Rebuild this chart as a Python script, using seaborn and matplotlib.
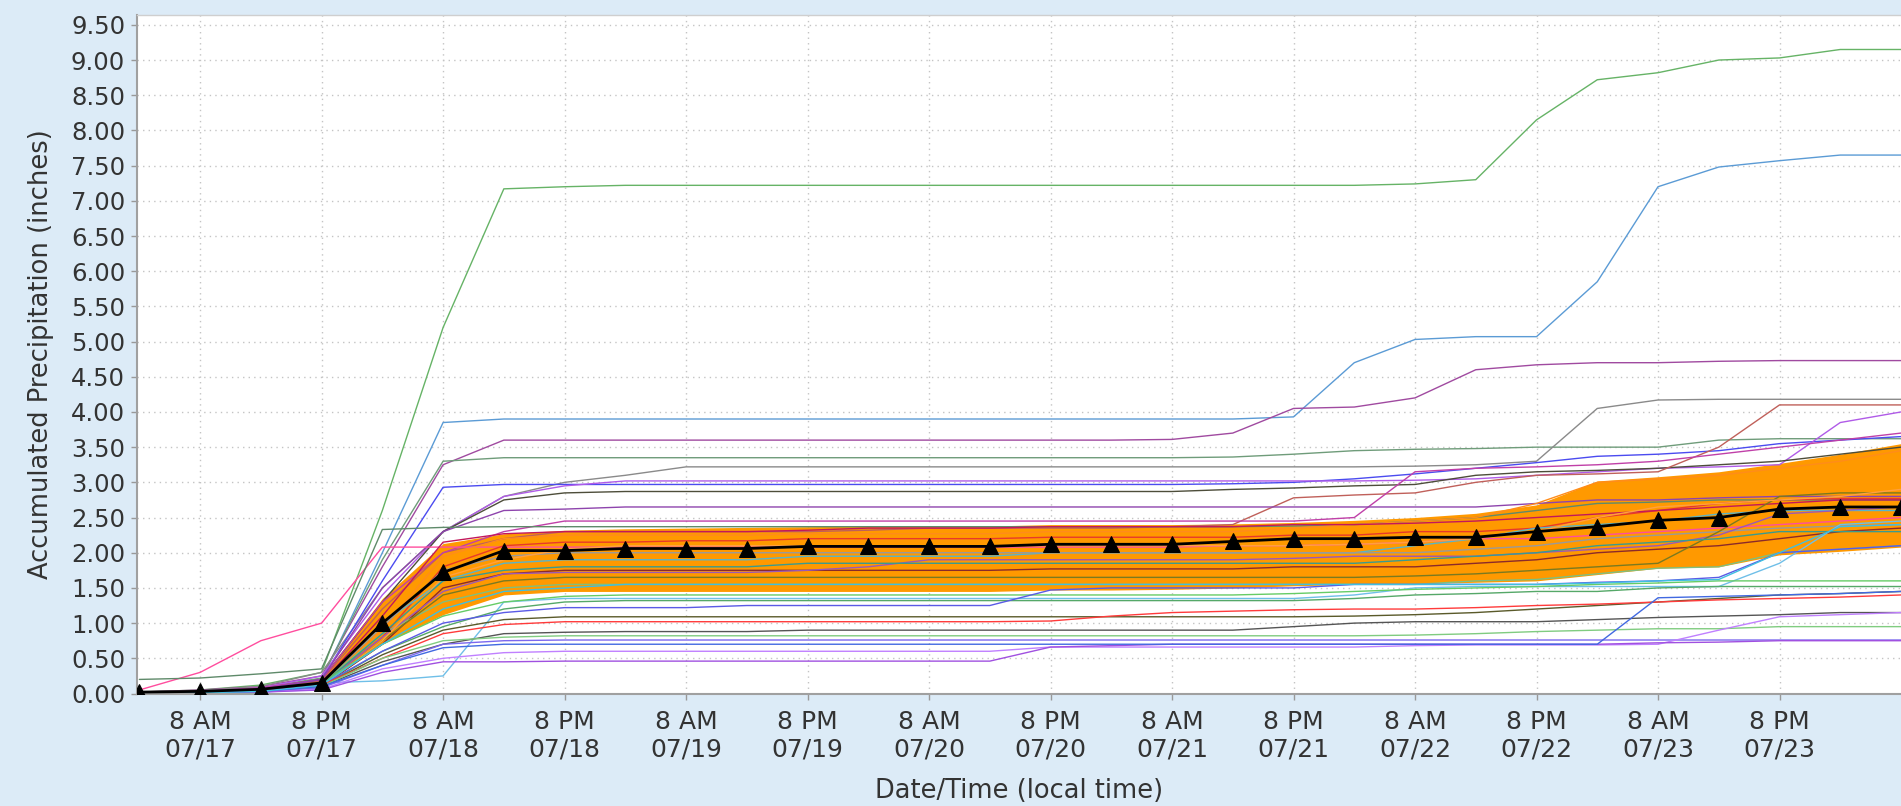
import numpy as np
import pandas as pd
import seaborn as sns
import matplotlib
matplotlib.use("Agg")
import matplotlib.pyplot as plt
import matplotlib.dates as mdates
import matplotlib.ticker as mticker

# 6-hourly valid times
times = pd.date_range("2024-07-17 02:00", periods=30, freq="6h")
# labelled ticks: 8 AM / 8 PM
tick_times = pd.date_range("2024-07-17 08:00", "2024-07-23 20:00", freq="12h")

# ensemble members (accumulated precip, inches)
m01 = [0.02, 0.05, 0.12, 0.30, 2.60, 5.20, 7.17, 7.20, 7.22, 7.22,
       7.22, 7.22, 7.22, 7.22, 7.22, 7.22, 7.22, 7.22, 7.22, 7.22,
       7.22, 7.24, 7.30, 8.15, 8.72, 8.82, 9.00, 9.03, 9.15, 9.15]
m02 = [0.01, 0.03, 0.08, 0.20, 2.00, 3.85, 3.90, 3.90, 3.90, 3.90,
       3.90, 3.90, 3.90, 3.90, 3.90, 3.90, 3.90, 3.90, 3.90, 3.93,
       4.70, 5.03, 5.07, 5.07, 5.85, 7.20, 7.48, 7.57, 7.65, 7.65]
m03 = [0.02, 0.05, 0.10, 0.25, 1.80, 3.25, 3.60, 3.60, 3.60, 3.60,
       3.60, 3.60, 3.60, 3.60, 3.60, 3.60, 3.60, 3.61, 3.70, 4.05,
       4.07, 4.20, 4.60, 4.67, 4.70, 4.70, 4.72, 4.73, 4.73, 4.73]
m04 = [0.01, 0.03, 0.08, 0.22, 1.90, 3.30, 3.35, 3.35, 3.35, 3.35,
       3.35, 3.35, 3.35, 3.35, 3.35, 3.35, 3.35, 3.35, 3.36, 3.40,
       3.45, 3.47, 3.48, 3.50, 3.50, 3.50, 3.60, 3.62, 3.62, 3.62]
m05 = [0.02, 0.04, 0.10, 0.30, 1.50, 2.30, 2.80, 3.00, 3.10, 3.22,
       3.22, 3.22, 3.22, 3.22, 3.22, 3.22, 3.22, 3.22, 3.22, 3.22,
       3.22, 3.23, 3.25, 3.30, 4.05, 4.17, 4.18, 4.18, 4.18, 4.18]
m06 = [0.01, 0.02, 0.06, 0.20, 1.60, 2.93, 2.97, 2.97, 2.97, 2.97,
       2.97, 2.97, 2.97, 2.97, 2.97, 2.97, 2.97, 2.97, 2.98, 3.00,
       3.05, 3.12, 3.20, 3.28, 3.37, 3.40, 3.45, 3.55, 3.60, 3.65]
m07 = [0.01, 0.03, 0.08, 0.25, 1.40, 2.30, 2.80, 2.95, 3.02, 3.02,
       3.02, 3.02, 3.02, 3.02, 3.02, 3.02, 3.02, 3.02, 3.02, 3.02,
       3.02, 3.03, 3.05, 3.10, 3.15, 3.20, 3.22, 3.25, 3.85, 4.00]
m08 = [0.01, 0.02, 0.07, 0.20, 1.30, 2.30, 2.75, 2.85, 2.87, 2.87,
       2.87, 2.87, 2.87, 2.87, 2.87, 2.87, 2.87, 2.87, 2.90, 2.92,
       2.95, 2.97, 3.10, 3.15, 3.17, 3.20, 3.25, 3.30, 3.40, 3.50]
m09 = [0.01, 0.02, 0.06, 0.18, 1.20, 2.00, 2.20, 2.30, 2.30, 2.30,
       2.30, 2.30, 2.32, 2.35, 2.35, 2.35, 2.35, 2.37, 2.40, 2.78,
       2.82, 2.85, 3.00, 3.10, 3.12, 3.15, 3.50, 4.10, 4.10, 4.10]
m10 = [0.01, 0.03, 0.08, 0.20, 1.30, 2.00, 2.30, 2.45, 2.45, 2.45,
       2.45, 2.45, 2.45, 2.45, 2.45, 2.45, 2.45, 2.45, 2.45, 2.45,
       2.50, 3.15, 3.20, 3.22, 3.25, 3.30, 3.40, 3.50, 3.60, 3.70]
m11 = [0.01, 0.02, 0.06, 0.20, 1.50, 2.30, 2.60, 2.62, 2.65, 2.65,
       2.65, 2.65, 2.65, 2.65, 2.65, 2.65, 2.65, 2.65, 2.65, 2.65,
       2.65, 2.65, 2.65, 2.70, 2.75, 2.75, 2.78, 2.80, 2.80, 2.80]
m12 = [0.05, 0.30, 0.75, 1.00, 2.08, 2.08, 2.08, 2.08, 2.08, 2.08,
       2.08, 2.08, 2.08, 2.08, 2.08, 2.08, 2.08, 2.08, 2.10, 2.10,
       2.12, 2.15, 2.20, 2.20, 2.25, 2.30, 2.35, 2.40, 2.45, 2.50]
m13 = [0.20, 0.22, 0.28, 0.35, 2.33, 2.36, 2.37, 2.37, 2.37, 2.37,
       2.37, 2.37, 2.37, 2.37, 2.37, 2.37, 2.37, 2.37, 2.37, 2.38,
       2.40, 2.45, 2.50, 2.60, 2.70, 2.72, 2.75, 2.75, 2.75, 2.75]
m14 = [0.00, 0.01, 0.03, 0.12, 0.90, 1.95, 2.20, 2.25, 2.25, 2.25,
       2.25, 2.27, 2.27, 2.27, 2.27, 2.30, 2.30, 2.30, 2.30, 2.35,
       2.40, 2.45, 2.50, 2.70, 3.00, 3.05, 3.10, 3.20, 3.30, 3.45]
m15 = [0.00, 0.01, 0.04, 0.12, 0.80, 1.80, 2.10, 2.15, 2.15, 2.17,
       2.17, 2.20, 2.20, 2.20, 2.20, 2.22, 2.22, 2.22, 2.22, 2.25,
       2.25, 2.30, 2.30, 2.35, 2.50, 2.60, 2.70, 2.75, 2.77, 2.77]
m16 = [0.00, 0.02, 0.05, 0.15, 1.00, 1.60, 1.85, 1.90, 1.90, 1.90,
       1.90, 1.95, 1.95, 1.95, 1.95, 2.00, 2.00, 2.00, 2.00, 2.00,
       2.00, 2.10, 2.20, 2.35, 2.40, 2.45, 2.55, 2.60, 2.60, 2.60]
m17 = [0.00, 0.01, 0.04, 0.14, 0.95, 1.75, 1.95, 2.00, 2.00, 2.00,
       2.00, 2.00, 2.00, 2.00, 2.00, 2.00, 2.00, 2.00, 2.00, 2.00,
       2.00, 2.00, 2.05, 2.10, 2.20, 2.25, 2.30, 2.35, 2.38, 2.40]
m18 = [0.01, 0.02, 0.05, 0.15, 1.10, 2.15, 2.27, 2.30, 2.30, 2.30,
       2.30, 2.32, 2.35, 2.35, 2.35, 2.37, 2.37, 2.37, 2.37, 2.40,
       2.40, 2.42, 2.45, 2.50, 2.55, 2.60, 2.65, 2.70, 2.75, 2.75]
m19 = [0.00, 0.01, 0.03, 0.10, 0.70, 1.50, 1.70, 1.75, 1.75, 1.75,
       1.75, 1.75, 1.75, 1.75, 1.75, 1.77, 1.77, 1.77, 1.77, 1.80,
       1.80, 1.80, 1.85, 1.90, 2.00, 2.05, 2.10, 2.20, 2.30, 2.35]
m20 = [0.00, 0.02, 0.05, 0.15, 0.85, 1.30, 1.50, 1.55, 1.55, 1.55,
       1.55, 1.55, 1.55, 1.55, 1.55, 1.55, 1.55, 1.55, 1.55, 1.55,
       1.55, 1.55, 1.60, 1.62, 1.70, 1.78, 1.80, 2.00, 2.05, 2.10]
m21 = [0.00, 0.01, 0.04, 0.12, 0.80, 1.45, 1.70, 1.72, 1.72, 1.72,
       1.72, 1.75, 1.80, 1.90, 1.90, 1.90, 1.90, 1.90, 1.90, 1.92,
       1.95, 1.95, 1.95, 2.00, 2.05, 2.10, 2.25, 2.55, 2.60, 2.65]
m22 = [0.00, 0.01, 0.03, 0.10, 0.75, 1.40, 1.60, 1.65, 1.65, 1.65,
       1.65, 1.65, 1.65, 1.65, 1.65, 1.65, 1.65, 1.65, 1.65, 1.65,
       1.65, 1.67, 1.70, 1.75, 1.80, 1.85, 2.30, 2.80, 2.85, 2.85]
m23 = [0.00, 0.02, 0.05, 0.15, 0.18, 0.25, 1.30, 1.35, 1.35, 1.35,
       1.35, 1.35, 1.35, 1.35, 1.35, 1.35, 1.35, 1.35, 1.35, 1.35,
       1.40, 1.50, 1.52, 1.52, 1.52, 1.52, 1.52, 1.85, 2.40, 2.45]
m24 = [0.00, 0.01, 0.03, 0.10, 0.75, 1.65, 1.90, 2.05, 2.10, 2.10,
       2.10, 2.10, 2.10, 2.10, 2.10, 2.10, 2.10, 2.10, 2.10, 2.10,
       2.12, 2.15, 2.20, 2.30, 2.50, 2.65, 2.70, 2.75, 2.80, 2.90]
m25 = [0.00, 0.01, 0.04, 0.12, 0.85, 1.60, 1.75, 1.80, 1.80, 1.80,
       1.80, 1.85, 1.85, 1.85, 1.85, 1.85, 1.85, 1.85, 1.85, 1.85,
       1.85, 1.90, 1.95, 2.00, 2.10, 2.15, 2.20, 2.30, 2.30, 2.30]
m26 = [0.00, 0.02, 0.05, 0.15, 0.70, 1.10, 1.30, 1.38, 1.40, 1.40,
       1.40, 1.40, 1.40, 1.40, 1.40, 1.40, 1.40, 1.40, 1.40, 1.42,
       1.45, 1.48, 1.50, 1.52, 1.55, 1.57, 1.60, 1.60, 1.60, 1.60]
m27 = [0.00, 0.01, 0.03, 0.10, 0.60, 0.95, 1.20, 1.30, 1.32, 1.32,
       1.32, 1.32, 1.32, 1.32, 1.32, 1.32, 1.32, 1.32, 1.32, 1.32,
       1.35, 1.40, 1.42, 1.45, 1.45, 1.50, 1.52, 1.52, 1.52, 1.52]
m28 = [0.00, 0.01, 0.04, 0.12, 0.60, 1.00, 1.15, 1.22, 1.22, 1.22,
       1.25, 1.25, 1.25, 1.25, 1.25, 1.47, 1.50, 1.50, 1.50, 1.50,
       1.55, 1.55, 1.55, 1.55, 1.58, 1.60, 1.65, 2.00, 2.05, 2.10]
m29 = [0.00, 0.01, 0.03, 0.10, 0.55, 0.90, 1.05, 1.09, 1.09, 1.09,
       1.09, 1.09, 1.09, 1.09, 1.09, 1.09, 1.09, 1.09, 1.09, 1.09,
       1.10, 1.12, 1.15, 1.20, 1.25, 1.30, 1.35, 1.40, 1.42, 1.45]
m30 = [0.00, 0.01, 0.03, 0.12, 0.50, 0.85, 0.98, 1.02, 1.02, 1.02,
       1.02, 1.02, 1.02, 1.02, 1.02, 1.03, 1.10, 1.15, 1.17, 1.19,
       1.20, 1.20, 1.22, 1.25, 1.27, 1.30, 1.33, 1.35, 1.37, 1.40]
m31 = [0.00, 0.01, 0.02, 0.10, 0.45, 0.70, 0.85, 0.87, 0.88, 0.88,
       0.88, 0.90, 0.90, 0.90, 0.90, 0.90, 0.90, 0.90, 0.90, 0.95,
       1.00, 1.02, 1.02, 1.02, 1.05, 1.08, 1.10, 1.12, 1.15, 1.15]
m32 = [0.00, 0.01, 0.03, 0.10, 0.50, 0.75, 0.80, 0.82, 0.82, 0.82,
       0.82, 0.82, 0.82, 0.82, 0.82, 0.82, 0.82, 0.82, 0.82, 0.82,
       0.82, 0.83, 0.85, 0.88, 0.90, 0.92, 0.92, 0.95, 0.95, 0.95]
m33 = [0.00, 0.01, 0.02, 0.08, 0.40, 0.70, 0.75, 0.76, 0.76, 0.76,
       0.76, 0.76, 0.76, 0.76, 0.76, 0.76, 0.76, 0.76, 0.76, 0.76,
       0.76, 0.76, 0.76, 0.76, 0.76, 0.76, 0.76, 0.76, 0.76, 0.76]
m34 = [0.00, 0.01, 0.02, 0.06, 0.35, 0.50, 0.58, 0.60, 0.60, 0.60,
       0.60, 0.60, 0.60, 0.60, 0.60, 0.66, 0.66, 0.66, 0.66, 0.66,
       0.66, 0.68, 0.69, 0.69, 0.69, 0.70, 0.90, 1.09, 1.12, 1.15]
m35 = [0.00, 0.01, 0.02, 0.05, 0.30, 0.45, 0.45, 0.46, 0.46, 0.46,
       0.46, 0.46, 0.46, 0.46, 0.46, 0.66, 0.68, 0.70, 0.70, 0.70,
       0.70, 0.70, 0.70, 0.70, 0.70, 0.72, 0.73, 0.75, 0.75, 0.75]
m36 = [0.00, 0.01, 0.03, 0.10, 0.40, 0.65, 0.70, 0.70, 0.70, 0.70,
       0.70, 0.70, 0.70, 0.70, 0.70, 0.70, 0.70, 0.70, 0.70, 0.70,
       0.70, 0.70, 0.70, 0.70, 0.70, 1.36, 1.38, 1.40, 1.42, 1.45]
m37 = [0.00, 0.01, 0.03, 0.12, 0.70, 1.20, 1.45, 1.50, 1.55, 1.55,
       1.55, 1.55, 1.55, 1.55, 1.55, 1.55, 1.55, 1.55, 1.55, 1.55,
       1.55, 1.55, 1.55, 1.55, 1.57, 1.60, 1.62, 2.00, 2.37, 2.40]

members = [m01, m02, m03, m04, m05, m06, m07, m08, m09, m10,
           m11, m12, m13, m14, m15, m16, m17, m18, m19, m20,
           m21, m22, m23, m24, m25, m26, m27, m28, m29, m30,
           m31, m32, m33, m34, m35, m36, m37]
member_colors = ['#66b366', '#5b9bd5', '#a04aa0', '#6f9c7a', '#8a8a8a',
                 '#4b4bf0', '#b05be8', '#4d4d3a', '#c0605a', '#c040a8',
                 '#8e44ad', '#ff4d9e', '#5f8a6a', '#ff8c1a', '#e8392a',
                 '#5ab4c8', '#9a9a9a', '#c2185b', '#8b2a2a', '#7fbf7f',
                 '#9b59b6', '#7a7a20', '#6fbfe8', '#ffa040', '#3a9b8f',
                 '#66cc66', '#55a868', '#5a5ae6', '#5a5a2a', '#ff3b3b',
                 '#555555', '#80cc80', '#7b68ee', '#c080ff', '#a050e0',
                 '#4169e1', '#40bfe0']

# ensemble mean (triangles) and shaded spread
mean_vals = [0.02, 0.03, 0.06, 0.15, 1.00, 1.72, 2.03, 2.03, 2.06, 2.06,
             2.06, 2.09, 2.09, 2.09, 2.09, 2.12, 2.12, 2.12, 2.16, 2.20,
             2.20, 2.22, 2.22, 2.30, 2.37, 2.46, 2.50, 2.62, 2.65, 2.65]
band_low = [0.00, 0.00, 0.02, 0.10, 0.70, 1.12, 1.40, 1.45, 1.45, 1.45,
            1.45, 1.45, 1.45, 1.45, 1.45, 1.47, 1.47, 1.48, 1.50, 1.53,
            1.55, 1.56, 1.58, 1.60, 1.69, 1.78, 1.80, 1.97, 2.02, 2.08]
band_high = [0.02, 0.04, 0.09, 0.22, 1.35, 2.13, 2.27, 2.32, 2.34, 2.35,
             2.36, 2.37, 2.38, 2.38, 2.38, 2.40, 2.40, 2.40, 2.41, 2.43,
             2.46, 2.50, 2.56, 2.68, 3.02, 3.08, 3.15, 3.27, 3.40, 3.55]

y_ticks = np.arange(0, 9.51, 0.5)

names = ["m%02d" % (i + 1) for i in range(len(members))]
df = pd.DataFrame({
    "time": np.tile(times, len(members)),
    "precip": np.concatenate(members),
    "member": np.repeat(names, len(times)),
})

sns.set_theme(style="white")
plt.rcParams['font.family'] = ['DejaVu Sans']

W, H = 1901, 806
fig = plt.figure(figsize=(W / 100, H / 100), dpi=100, facecolor='#dcebf7')
ax = fig.add_axes([137 / W, 1 - 693.5 / H, 1 - 137 / W, (693.5 - 15) / H])
ax.set_facecolor('white')

ax.fill_between(times, band_low, band_high, color='#ff9900', lw=0, zorder=1)

sns.lineplot(data=df, x="time", y="precip", hue="member",
             palette=dict(zip(names, member_colors)), linewidth=1.0,
             legend=False, errorbar=None, ax=ax, zorder=2)

sns.lineplot(x=times, y=mean_vals, color='black', linewidth=2, marker='^',
             markersize=11, markeredgecolor='black', errorbar=None, ax=ax, zorder=3)

ax.set_xlim(times[0] - pd.Timedelta(minutes=14), times[-1])
ax.set_ylim(0, 9.64)
ax.set_yticks(y_ticks)
ax.yaxis.set_major_formatter(mticker.FormatStrFormatter('%.2f'))
ax.xaxis.set_major_locator(mticker.FixedLocator(mdates.date2num(tick_times)))
ax.xaxis.set_major_formatter(mdates.DateFormatter('%-I %p\n%m/%d'))

ax.grid(True, color='#c4c4c4', linestyle=(0, (1, 3)), linewidth=1.0)
ax.set_axisbelow(True)

for s in ['left', 'bottom']:
    ax.spines[s].set_color('#a0a0a0')
    ax.spines[s].set_linewidth(1.5)
ax.spines['top'].set_color('#cfcfcf')
ax.spines['top'].set_linewidth(1.0)
ax.spines['right'].set_visible(False)

ax.tick_params(axis='both', bottom=True, left=True, length=4, width=1,
               color='#999999', labelcolor='#333333')
ax.tick_params(axis='x', labelsize=18, pad=8)
ax.tick_params(axis='y', labelsize=17.5, pad=4.5)

ax.set_xlabel("Date/Time (local time)", fontsize=18.5, color='#333333')
ax.xaxis.set_label_coords(0.5, -0.124)
ax.set_ylabel("Accumulated Precipitation (inches)", fontsize=18.5, color='#333333')
ax.yaxis.set_label_coords(-0.047, 0.5)

fig.savefig("out.png", dpi=100, facecolor=fig.get_facecolor())
